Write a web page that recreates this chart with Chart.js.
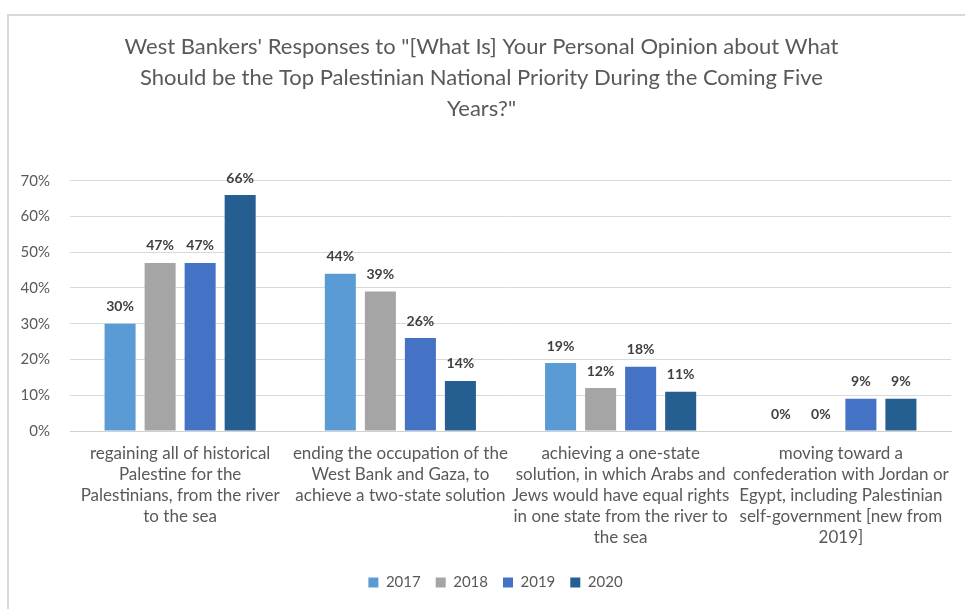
<!DOCTYPE html>
<html>
<head>
<meta charset="utf-8">
<script src="https://cdn.jsdelivr.net/npm/chart.js@4"></script>
<style>
    html, body { margin: 0; padding: 0; background: #fff; overflow: hidden; }
    #frame {
        position: absolute; left: 7px; top: 14px; width: 980px; height: 620px;
        border-left: 2px solid #d9d9d9; border-top: 2px solid #d9d9d9;
    }
    #wrap { position: absolute; left: 0; top: 0; width: 965px; height: 609px; }
</style>
</head>
<body>
<div id="frame"></div>
<div id="wrap"><canvas id="chart"></canvas></div>
<script>
// Categories (multi-line labels as drawn under each group)
const categories = [
    ['regaining all of historical', 'Palestine for the', 'Palestinians, from the river', 'to the sea'],
    ['ending the occupation of the', 'West Bank and Gaza, to', 'achieve a two-state solution'],
    ['achieving a one-state', 'solution, in which Arabs and', 'Jews would have equal rights', 'in one state from the river to', 'the sea'],
    ['moving toward a', 'confederation with Jordan or', 'Egypt, including Palestinian', 'self-government [new from', '2019]']
];

// Series values (percent)
const years = ['2017', '2018', '2019', '2020'];
const values2017 = [30, 44, 19, 0];
const values2018 = [47, 39, 12, 0];
const values2019 = [47, 26, 18, 9];
const values2020 = [66, 14, 11, 9];
const yearColors = ['#5b9bd5', '#a5a5a5', '#4472c4', '#255e91'];

const titleLines = [
    'West Bankers\' Responses to "[What Is] Your Personal Opinion about What',
    'Should be the Top Palestinian National Priority During the Coming Five',
    'Years?"'
];

// Value labels above each bar
const barLabels = {
    id: 'barLabels',
    afterDatasetsDraw(chart) {
        const ctx = chart.ctx;
        ctx.save();
        ctx.font = 'bold 14px Lato';
        ctx.fillStyle = '#404040';
        ctx.textAlign = 'center';
        ctx.textBaseline = 'middle';
        chart.data.datasets.forEach((ds, i) => {
            chart.getDatasetMeta(i).data.forEach((bar, j) => {
                ctx.fillText(ds.data[j] + '%', bar.x, bar.y - 17);
            });
        });
        ctx.restore();
    }
};

// Legend sits a little right of the canvas centre in the original
const legendShift = {
    id: 'legendShift',
    afterLayout(chart) {
        chart.legend.left += 14;
        chart.legend.right += 14;
    }
};

const seriesData = [values2017, values2018, values2019, values2020];

new Chart(document.getElementById('chart'), {
    type: 'bar',
    data: {
        labels: categories,
        datasets: years.map((y, i) => ({
            label: y,
            data: seriesData[i],
            backgroundColor: yearColors[i],
            categoryPercentage: 0.727,
            barPercentage: 0.775
        }))
    },
    options: {
        responsive: true,
        maintainAspectRatio: false,
        animation: false,
        layout: { padding: { left: 12, right: 14, top: 10, bottom: 9 } },
        plugins: {
            title: {
                display: true,
                text: titleLines,
                color: '#595959',
                font: { family: 'Lato', size: 22, weight: 'normal', lineHeight: 1.39 },
                padding: { top: 22, bottom: 57 }
            },
            legend: {
                position: 'bottom',
                labels: {
                    color: '#595959',
                    font: { family: 'Lato', size: 15 },
                    boxWidth: 10,
                    boxHeight: 10,
                    padding: 15
                }
            },
            tooltip: { enabled: false }
        },
        scales: {
            x: {
                grid: { display: false },
                border: { color: '#d0d0d0' },
                ticks: {
                    color: '#595959',
                    font: { family: 'Lato', size: 17, lineHeight: '21px' },
                    maxRotation: 0,
                    autoSkip: false,
                    padding: 4
                },
                afterFit: (scale) => { scale.height = 129; }
            },
            y: {
                min: 0,
                max: 70,
                grid: { color: '#d9d9d9', drawTicks: false },
                border: { display: false },
                ticks: {
                    stepSize: 10,
                    color: '#595959',
                    font: { family: 'Lato', size: 15 },
                    padding: 20,
                    callback: (v) => v + '%'
                },
                afterFit: (scale) => { scale.width = 58; }
            }
        }
    },
    plugins: [barLabels, legendShift]
});
</script>
</body>
</html>
